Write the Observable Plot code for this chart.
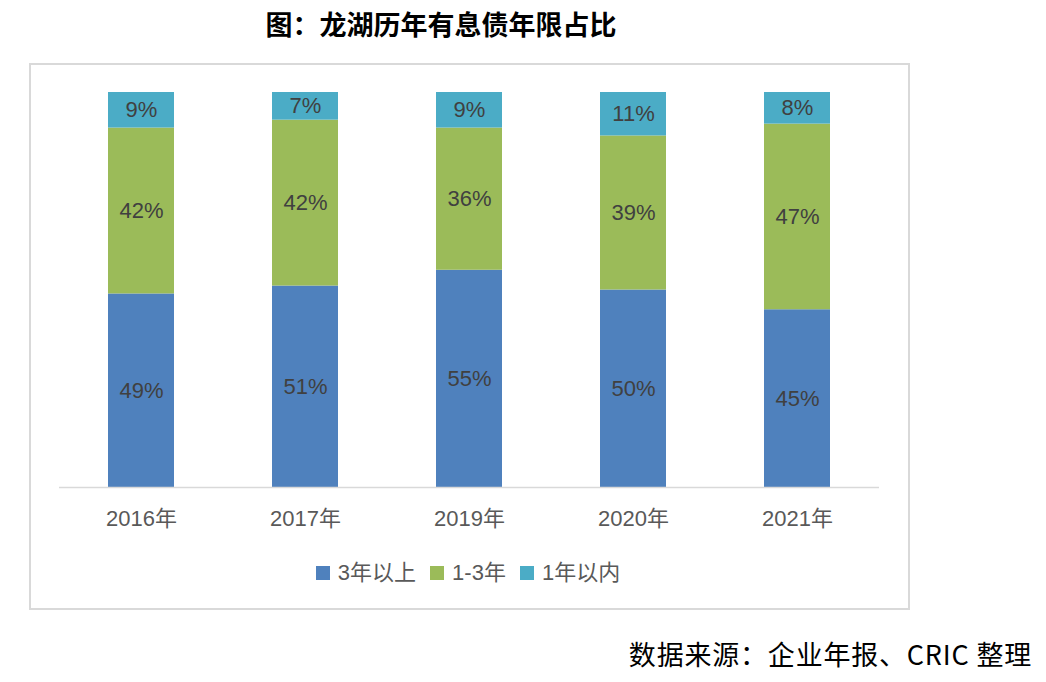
<!DOCTYPE html>
<html><head><meta charset="utf-8">
<script src="https://cdn.jsdelivr.net/npm/d3@7"></script>
<script src="https://cdn.jsdelivr.net/npm/@observablehq/plot@0.6"></script>
<style>
html,body{margin:0;padding:0;background:#fff;}
body{width:1046px;height:682px;position:relative;overflow:hidden;font-family:"Liberation Sans",Arial,"Noto Sans CJK SC",sans-serif;}
#title{position:absolute;left:0;width:882px;top:5px;text-align:center;font:bold 27px "Noto Sans CJK SC",sans-serif;color:#000;line-height:38px;}
#box{position:absolute;left:29px;top:63px;width:877px;height:543px;border:2px solid #d9d9d9;}
#chart{position:absolute;left:0;top:0;}
#legend{position:absolute;left:0;width:936px;top:559px;display:flex;justify-content:center;gap:14px;font-size:22px;color:#595959;line-height:28px;}
#legend span.item{display:flex;align-items:center;gap:8px;}
#legend i{display:inline-block;width:14px;height:14px;}
#caption{position:absolute;right:14px;top:635px;font:27px "Noto Sans CJK SC",serif;color:#000;line-height:38px;letter-spacing:0.8px;}
</style></head>
<body>
<div id="title">图：龙湖历年有息债年限占比</div>
<div id="box"></div>
<div id="chart"></div>
<div id="legend"></div>
<div id="caption">数据来源：企业年报、CRIC 整理</div>
<script>
const years = ["2016年","2017年","2019年","2020年","2021年"];
const seriesNames = ["3年以上","1-3年","1年以内"];
const colors = ["#4f81bd","#9bbb59","#4bacc6"];
const over3 = [49,51,55,50,45];
const oneToThree = [42,42,36,39,47];
const within1 = [9,7,9,11,8];

const values = [over3, oneToThree, within1];
const data = [];
seriesNames.forEach((s,si)=>years.forEach((y,yi)=>data.push({year:y, series:s, value:values[si][yi]})));

const chart = Plot.plot({
  width:1046, height:540,
  marginLeft:59, marginRight:167, marginTop:92, marginBottom:53,
  style:{fontFamily:'"Liberation Sans",Arial,"Noto Sans CJK SC",sans-serif', background:"transparent"},
  x:{domain:years, paddingInner:0.6, paddingOuter:0.3, label:null},
  y:{domain:[0,100], axis:null},
  color:{domain:seriesNames, range:colors},
  marks:[
    Plot.barY(data, {x:"year", y:"value", fill:"series", z:"series"}),
    Plot.text(data, Plot.stackY({x:"year", y:"value", z:"series", text:d=>d.value+"%", fill:"#404040", fontSize:22})),
    Plot.ruleY([0], {stroke:"#d9d9d9", strokeWidth:1.5}),
    Plot.axisX({tickSize:0, tickPadding:23, fontSize:22, color:"#595959", label:null})
  ]
});
document.getElementById("chart").appendChild(chart);

const lg = document.getElementById("legend");
seriesNames.forEach((s,i)=>{
  const it = document.createElement("span"); it.className="item";
  const sw = document.createElement("i"); sw.style.background = colors[i];
  const t = document.createElement("span"); t.textContent = s;
  it.appendChild(sw); it.appendChild(t); lg.appendChild(it);
});
</script>
</body></html>
